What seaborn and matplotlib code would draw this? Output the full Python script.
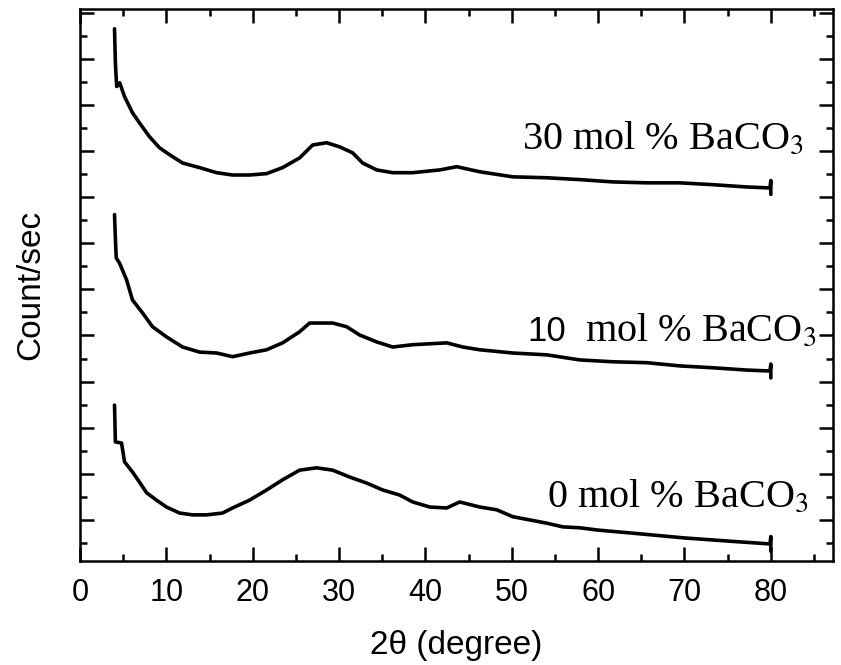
import matplotlib
matplotlib.use("Agg")
import matplotlib.pyplot as plt
from matplotlib.ticker import MultipleLocator, NullFormatter
import seaborn as sns
import pandas as pd

# ---- data ----
x_30 = [4.0, 4.1, 4.25, 4.6, 5.16, 6.08, 6.89, 8.05, 9.21, 10.37, 11.88, 13.85, 15.82, 17.67,
        19.64, 21.61, 23.46, 25.43, 26.94, 28.56, 30.07, 31.58, 32.73, 34.36, 36.21, 38.53,
        41.66, 43.63, 46.29, 50.12, 54.06, 57.88, 61.70, 65.64, 69.47, 73.29, 77.23, 79.9, 80.0, 80.0]
y_30 = [10.65, 9.9, 9.4, 9.48, 9.18, 8.83, 8.61, 8.31, 8.07, 7.92, 7.74, 7.64, 7.53, 7.48,
        7.48, 7.51, 7.64, 7.85, 8.13, 8.18, 8.09, 7.96, 7.74, 7.59, 7.53, 7.53,
        7.59, 7.66, 7.55, 7.44, 7.42, 7.38, 7.33, 7.31, 7.31, 7.27, 7.22, 7.20, 7.36, 7.06]

x_10 = [4.0, 4.1, 4.2, 4.58, 5.39, 6.08, 7.24, 8.40, 10.02, 11.88, 13.85, 15.82, 17.67, 19.64,
        21.61, 23.46, 25.43, 26.59, 28.10, 29.26, 30.88, 32.39, 34.36, 36.21, 38.53, 42.47,
        44.33, 46.29, 50.12, 54.06, 57.88, 61.70, 65.64, 69.47, 73.29, 77.23, 79.9, 80.0, 80.0]
y_10 = [6.62, 6.1, 5.68, 5.57, 5.21, 4.77, 4.49, 4.19, 3.97, 3.75, 3.64, 3.62, 3.54, 3.62,
        3.69, 3.84, 4.08, 4.27, 4.27, 4.27, 4.19, 4.01, 3.86, 3.75, 3.80, 3.84,
        3.75, 3.69, 3.62, 3.58, 3.47, 3.43, 3.41, 3.34, 3.30, 3.25, 3.23, 3.38, 3.08]

x_0 = [4.0, 4.1, 4.81, 5.16, 6.08, 6.89, 7.71, 8.86, 10.02, 11.53, 13.04, 14.66, 16.51, 17.67,
       19.64, 21.61, 23.46, 25.43, 27.40, 29.26, 31.23, 33.20, 35.05, 37.02, 38.53, 40.50,
       42.47, 43.97, 46.29, 48.26, 50.12, 52.09, 54.06, 55.91, 57.88, 59.97, 64.8, 69.99,
       75.2, 79.9, 80.0, 80.0]
y_0 = [2.49, 1.69, 1.67, 1.26, 1.04, 0.82, 0.59, 0.43, 0.28, 0.15, 0.11, 0.11, 0.15, 0.26,
       0.43, 0.65, 0.87, 1.08, 1.13, 1.08, 0.93, 0.80, 0.65, 0.54, 0.39, 0.28,
       0.26, 0.39, 0.28, 0.22, 0.07, 0.0, -0.07, -0.15, -0.17, -0.22, -0.30, -0.39,
       -0.46, -0.52, -0.36, -0.68]

labels = ["30 mol % BaCO$_3$", "10", "mol % BaCO$_3$", "0 mol % BaCO$_3$"]
x_ticks = [0, 10, 20, 30, 40, 50, 60, 70, 80]

frames = []
for name, xs, ys in [("30", x_30, y_30), ("10", x_10, y_10), ("0", x_0, y_0)]:
    frames.append(pd.DataFrame({"theta": xs, "count": ys, "sample": name}))
df = pd.concat(frames, ignore_index=True)

sns.set_theme(style="ticks")
plt.rcParams["font.family"] = ["Liberation Sans", "DejaVu Sans"]
plt.rcParams["mathtext.fontset"] = "stix"
plt.rcParams["text.color"] = "black"
plt.rcParams["axes.labelcolor"] = "black"

fig = plt.figure(figsize=(8.41, 6.65), dpi=100)
ax = fig.add_axes([0.0951, 0.1564, 0.8954, 0.8301])

for name in ["30", "10", "0"]:
    sub = df[df["sample"] == name]
    sns.lineplot(data=sub, x="theta", y="count", ax=ax, color="black", linewidth=2.6,
                 estimator=None, sort=False, legend=False)

ax.set_xlim(0, 87.2)
ax.set_ylim(-0.89, 11.08)
ax.xaxis.set_major_locator(MultipleLocator(10))
ax.xaxis.set_minor_locator(MultipleLocator(5))
ax.yaxis.set_major_locator(MultipleLocator(1))
ax.yaxis.set_minor_locator(MultipleLocator(0.5))
ax.set_xticks(x_ticks)
ax.set_xticklabels([str(t) for t in x_ticks])
ax.yaxis.set_major_formatter(NullFormatter())
ax.tick_params(axis="both", which="major", direction="in", length=10, width=1.8,
               top=True, right=True, labelsize=22, pad=12, colors="black")
ax.tick_params(axis="both", which="minor", direction="in", length=5, width=1.8,
               top=True, right=True, colors="black")
for s in ax.spines.values():
    s.set_linewidth(1.8)
    s.set_color("black")

ax.set_xlabel("2θ (degree)", fontsize=24, labelpad=16, color="black")
ax.set_ylabel("Count/sec", fontsize=24, labelpad=12, color="black")

serif = ["Liberation Serif", "DejaVu Serif"]
ax.text(51.16, 8.05, labels[0], fontsize=29, family=serif, va="baseline", ha="left", color="black")
ax.text(51.85, 3.88, labels[1], fontsize=25, family=["Liberation Sans"], va="baseline", ha="left",
        color="black")
ax.text(58.46, 3.88, labels[2], fontsize=29, family=serif, va="baseline", ha="left", color="black")
ax.text(54.06, 0.28, labels[3], fontsize=29, family=serif, va="baseline", ha="left", color="black")

fig.savefig("out.png", dpi=100)
